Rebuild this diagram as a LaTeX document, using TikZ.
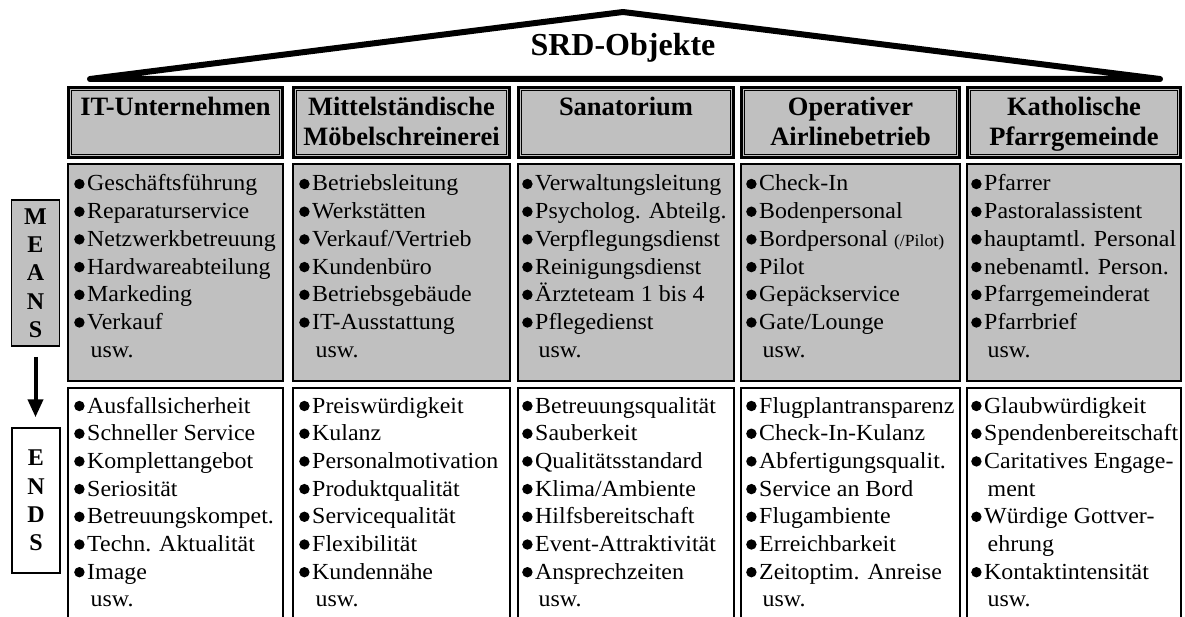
\documentclass[tikz,border=0pt]{standalone}
\usepackage{fontspec}
\setmainfont{Liberation Serif}
\newfontfamily\itemfont{Liberation Serif}[FakeStretch=1.04]
\usetikzlibrary{arrows.meta}
\definecolor{boxgray}{RGB}{192,192,192}
\newcommand{\bul}{\makebox[13pt][l]{\tikz[baseline={(0pt,-7pt)}]\fill (5.2pt,0pt) circle[radius=5.2pt];}}
\newcommand{\ind}{\hspace*{16.5pt}}
\newcommand{\itemsize}{\itemfont\fontsize{23}{27.7}\selectfont}
\newcommand{\hdrsize}{\bfseries\fontsize{26.5}{30}\selectfont}
\newcommand{\lblsize}{\bfseries\fontsize{24}{28.3}\selectfont}
\newcommand{\lst}[1]{\begin{tabular}[t]{@{}l@{}}#1\end{tabular}}
\newcommand{\hdr}[1]{\begin{tabular}[t]{@{}c@{}}#1\end{tabular}}

\begin{document}
\begin{tikzpicture}[x=1pt,y=1pt,
  hdrbox/.style={draw, line width=3.2pt, fill=boxgray},
  hdrinner/.style={draw, line width=0.9pt},
  meansbox/.style={draw, line width=2pt, fill=boxgray},
  endsline/.style={line width=1.6pt},
  lsttxt/.style={anchor=base west, inner sep=0pt, font=\itemsize},
  hdrtxt/.style={anchor=base, inner sep=0pt, font=\hdrsize},
  lblbox/.style={draw, line width=1.5pt, minimum width=48pt, inner sep=0pt, font=\lblsize, align=center},
  roof/.style={line width=6pt, line join=round},
  flow/.style={line width=4pt, -{Triangle[width=15pt,length=18pt]}}
]
\useasboundingbox (0,0) rectangle (1185,-617);
\clip (0,0) rectangle (1185,-617);

% roof
\draw[roof] (90,-79) -- (623,-12) -- (1160,-79) -- cycle;
\node[anchor=base, inner sep=0pt, font=\bfseries\fontsize{32}{36}\selectfont] (title) at (623,-55.5) {SRD-Objekte};

% column boxes
\foreach \l/\r in {67/284, 292/511, 517/735, 740/961, 966/1182}{
  \draw[hdrbox] (\l+1.6,-87.6) rectangle (\r-1.6,-157.4);
  \draw[hdrinner] (\l+4.8,-90.8) rectangle (\r-4.8,-154.2);
  \draw[meansbox] (\l+1,-164) rectangle (\r-1,-381);
  \draw[endsline] (\l+0.8,-640) |- (\r-0.8,-388) -- (\r-0.8,-640);
}

% headers
\node[hdrtxt] (h1) at (175.5,-115.7) {\hdr{IT-Unternehmen}};
\node[hdrtxt] (h2) at (401.5,-115.7) {\hdr{Mittelständische\\Möbelschreinerei}};
\node[hdrtxt] (h3) at (626,-115.7) {\hdr{Sanatorium}};
\node[hdrtxt] (h4) at (850.5,-115.7) {\hdr{Operativer\\Airlinebetrieb}};
\node[hdrtxt] (h5) at (1074,-115.7) {\hdr{Katholische\\Pfarrgemeinde}};

% means lists
\node[lsttxt] (m1) at (74,-191) {\lst{\bul Geschäftsführung\\\bul Reparaturservice\\\bul Netzwerkbetreuung\\\bul Hardwareabteilung\\\bul Markeding\\\bul Verkauf\\\ind usw.}};
\node[lsttxt] (m2) at (299,-191) {\lst{\bul Betriebsleitung\\\bul Werkstätten\\\bul Verkauf/Vertrieb\\\bul Kundenbüro\\\bul Betriebsgebäude\\\bul IT-Ausstattung\\\ind usw.}};
\node[lsttxt] (m3) at (522,-191) {\lst{\bul Verwaltungsleitung\\\bul Psycholog. Abteilg.\\\bul Verpflegungsdienst\\\bul Reinigungsdienst\\\bul Ärzteteam 1 bis 4\\\bul Pflegedienst\\\ind usw.}};
\node[lsttxt] (m4) at (746,-191) {\lst{\bul Check-In\\\bul Bodenpersonal\\\bul Bordpersonal {\fontsize{17}{17}\selectfont(/Pilot)}\\\bul Pilot\\\bul Gepäckservice\\\bul Gate/Lounge\\\ind usw.}};
\node[lsttxt] (m5) at (971,-191) {\lst{\bul Pfarrer\\\bul Pastoralassistent\\\bul hauptamtl. Personal\\\bul nebenamtl. Person.\\\bul Pfarrgemeinderat\\\bul Pfarrbrief\\\ind usw.}};

% ends lists
\node[lsttxt] (e1) at (74,-413) {\lst{\bul Ausfallsicherheit\\\bul Schneller Service\\\bul Komplettangebot\\\bul Seriosität\\\bul Betreuungskompet.\\\bul Techn. Aktualität\\\bul Image\\\ind usw.}};
\node[lsttxt] (e2) at (299,-413) {\lst{\bul Preiswürdigkeit\\\bul Kulanz\\\bul Personalmotivation\\\bul Produktqualität\\\bul Servicequalität\\\bul Flexibilität\\\bul Kundennähe\\\ind usw.}};
\node[lsttxt] (e3) at (522,-413) {\lst{\bul Betreuungsqualität\\\bul Sauberkeit\\\bul Qualitätsstandard\\\bul Klima/Ambiente\\\bul Hilfsbereitschaft\\\bul Event-Attraktivität\\\bul Ansprechzeiten\\\ind usw.}};
\node[lsttxt] (e4) at (746,-413) {\lst{\bul Flugplantransparenz\\\bul Check-In-Kulanz\\\bul Abfertigungsqualit.\\\bul Service an Bord\\\bul Flugambiente\\\bul Erreichbarkeit\\\bul Zeitoptim. Anreise\\\ind usw.}};
\node[lsttxt] (e5) at (971,-413) {\lst{\bul Glaubwürdigkeit\\\bul Spendenbereitschaft\\\bul Caritatives Engage-\\\ind ment\\\bul Würdige Gottver-\\\ind ehrung\\\bul Kontaktintensität\\\ind usw.}};

% MEANS -> ENDS
\node[lblbox, fill=boxgray, minimum height=146pt] (means) at (35.5,-273) {M\\E\\A\\N\\S};
\node[lblbox, fill=white, minimum height=145pt] (ends) at (36,-500.5) {E\\N\\D\\S};
\draw[flow, shorten <=10pt, shorten >=10pt] (means.south) -- (means.south |- ends.north);
\end{tikzpicture}
\end{document}
